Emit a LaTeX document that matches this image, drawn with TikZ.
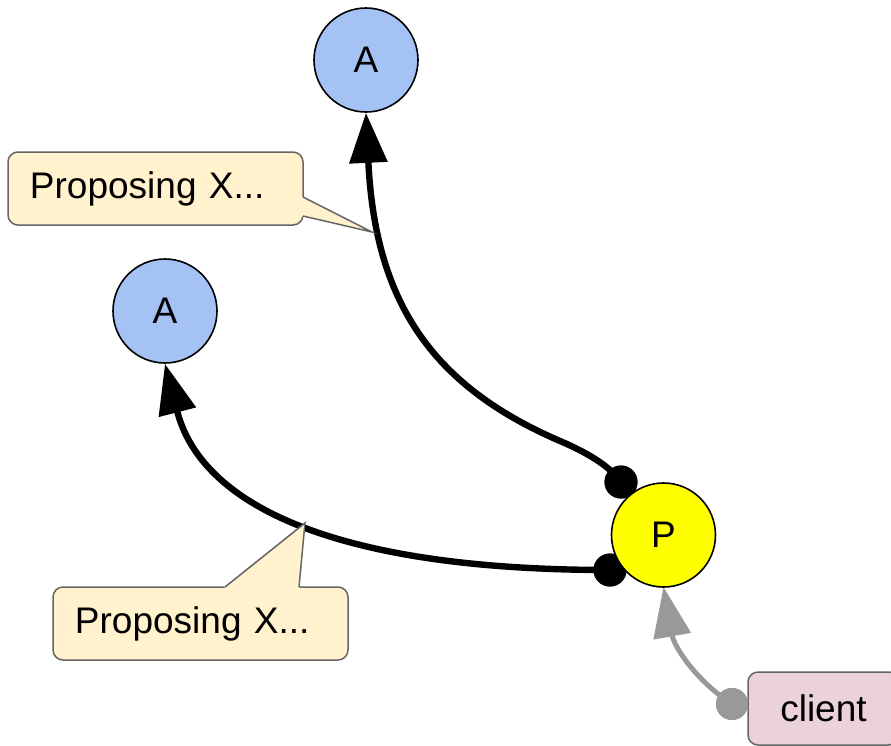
\documentclass[tikz,border=0pt]{standalone}
\usepackage{fontspec}
\setmainfont{Liberation Sans}
\usetikzlibrary{arrows.meta}

\definecolor{accfill}{HTML}{A4C2F4}
\definecolor{propfill}{HTML}{FFFF00}
\definecolor{notefill}{HTML}{FFF2CC}
\definecolor{noteline}{HTML}{666666}
\definecolor{clientfill}{HTML}{EAD1DC}
\definecolor{clientline}{HTML}{999999}

\newcommand{\labelfont}{\fontsize{18.5}{22}\selectfont}

\tikzset{
  role/.style={circle, draw=black, line width=0.8pt, minimum size=52pt,
    inner sep=0pt, font=\labelfont},
  acceptor/.style={role, fill=accfill},
  proposer/.style={role, fill=propfill},
  note/.style={draw=noteline, fill=notefill, line width=0.75pt,
    rounded corners=5pt, minimum height=36.5pt, text width=125.5pt,
    inner xsep=11pt, align=left, font=\labelfont},
  notetail/.style={draw=noteline, line width=0.75pt},
  clientbox/.style={draw=noteline, fill=clientfill, line width=0.75pt,
    rounded corners=5pt, minimum height=36.5pt, minimum width=75.5pt,
    inner sep=0pt, font=\labelfont},
  msg/.style={line width=3.2pt, black,
    -{Triangle[length=25pt,width=18.5pt]}},
  request/.style={line width=2.5pt, clientline,
    -{Triangle[length=25pt,width=18.5pt]}},
  enddot/.style={circle, fill=black, minimum size=16.5pt, inner sep=0pt},
  greydot/.style={circle, fill=clientline, minimum size=16pt, inner sep=0pt},
}

\begin{document}
\begin{tikzpicture}[x=0.5pt, y=-0.5pt]
\useasboundingbox (0,0) rectangle (891,746);

% acceptors, proposer and client
\node[acceptor] (accTop)  at (366,60)  {A};
\node[acceptor] (accLeft) at (165,311) {A};
\node[clientbox] (client) at (823.5,708.5) {client};

% connector end points
\node[enddot] (dotTop) at (621,482) {};
\node[enddot] (dotBot) at (610,570) {};
\node[greydot] (dotCli) at (732,704) {};

% messages from the proposer to the acceptors
\draw[msg] (dotTop.center) .. controls (610,466) and (586,452) .. (560,441)
  .. controls (430,385) and (375,300) .. (accTop.south);
\draw[msg] (dotBot.center) .. controls (332,570) and (201,504) .. (accLeft.south);

% request from the client
\draw[request] (dotCli.center) .. controls (695,680) and (674,646) .. (663.5,587);

% redraw the dots on top of the lines
\node[enddot] at (dotTop) {};
\node[enddot] at (dotBot) {};
\node[greydot] at (dotCli) {};

\node[proposer] (prop) at (663.5,535) {P};

% callout notes
\node[note] (note1) at (155.5,188.5) {Proposing X...};
\coordinate (tip1) at (372,232);
\fill[notefill] (299,195) -- (303,197) -- (tip1) -- (303,216) -- (299,218) -- cycle;
\draw[notetail] (303,197) -- (tip1) -- (303,216);

\node[note] (note2) at (200.5,623.5) {Proposing X...};
\coordinate (tip2) at (305,523);
\fill[notefill] (222,591) -- (225,587) -- (tip2) -- (299,587) -- (302,591) -- cycle;
\draw[notetail] (225,587) -- (tip2) -- (299,587);
\end{tikzpicture}
\end{document}
